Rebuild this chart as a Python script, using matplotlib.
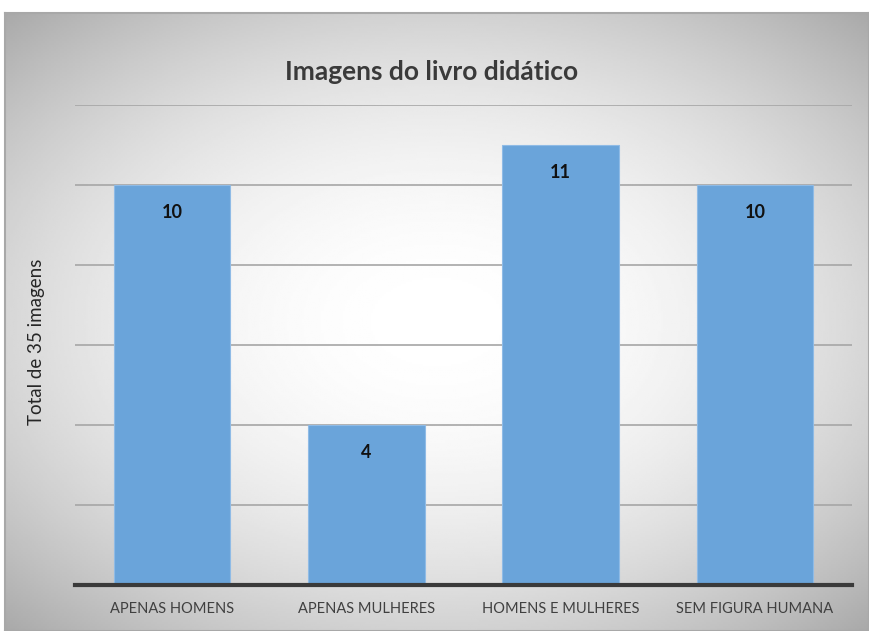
import numpy as np
import matplotlib.pyplot as plt

categories = ['APENAS HOMENS', 'APENAS MULHERES', 'HOMENS E MULHERES', 'SEM FIGURA HUMANA']
values = [10, 4, 11, 10]
title = 'Imagens do livro didático'
ylabel = 'Total de 35 imagens'

plt.rcParams['font.family'] = ['Lato', 'DejaVu Sans']

W, H = 869, 631
fig = plt.figure(figsize=(W / 100, H / 100), dpi=100)
fig.patch.set_facecolor('white')

# background panel with radial gradient (white centre, grey edges)
bg = fig.add_axes([5 / W, 0, (W - 5) / W, (H - 13) / H])
yy, xx = np.mgrid[-1:1:300j, -1:1:400j]
r = np.sqrt((xx * 0.85) ** 2 + (yy * 0.9) ** 2)
shade = 1 - 0.22 * np.clip(r, 0, 1.4) ** 2
bg.imshow(shade, cmap='gray', vmin=0, vmax=1, aspect='auto', extent=[0, 1, 0, 1])
bg.set_xticks([])
bg.set_yticks([])
for s in bg.spines.values():
    s.set_color('#a8a8a8')
    s.set_linewidth(1.5)

# plot area
left, right = 75 / W, 852 / W
bottom, top = 1 - 585 / H, 1 - 105 / H
ax = fig.add_axes([left, bottom, right - left, top - bottom])
ax.patch.set_alpha(0)

x = np.arange(len(categories))
bars = ax.bar(x, values, width=0.6, color='#6aa4da', edgecolor='#8fbbe6', linewidth=0.8, zorder=3)
for b, v in zip(bars, values):
    ax.text(b.get_x() + b.get_width() / 2, v - 0.7, str(v), ha='center', va='center',
            fontsize=13, fontweight='bold', color='#111111', zorder=4)

ax.set_xlim(-0.5, len(categories) - 0.5)
ax.set_ylim(0, 12)
ax.set_yticks([2, 4, 6, 8, 10, 12])
ax.yaxis.grid(True, color='#a6a6a6', linewidth=1.2, zorder=0)
ax.tick_params(axis='y', length=0, labelleft=False)
ax.tick_params(axis='x', length=0, pad=12)
ax.set_xticks(x)
ax.set_xticklabels(categories, fontsize=10.5, color='#404040')
for s in ['top', 'right', 'left']:
    ax.spines[s].set_visible(False)
ax.spines['bottom'].set_color('#3a3a3a')
ax.spines['bottom'].set_linewidth(3)
ax.spines['bottom'].set_zorder(5)

fig.text(432 / W, 1 - 72 / H, title, ha='center', va='center', fontsize=19,
         fontweight='bold', color='#3a3a3a')
fig.text(37 / W, 1 - 342 / H, ylabel, ha='center', va='center', rotation=90,
         fontsize=13.5, color='#262626')

fig.savefig('out.png', dpi=100)
